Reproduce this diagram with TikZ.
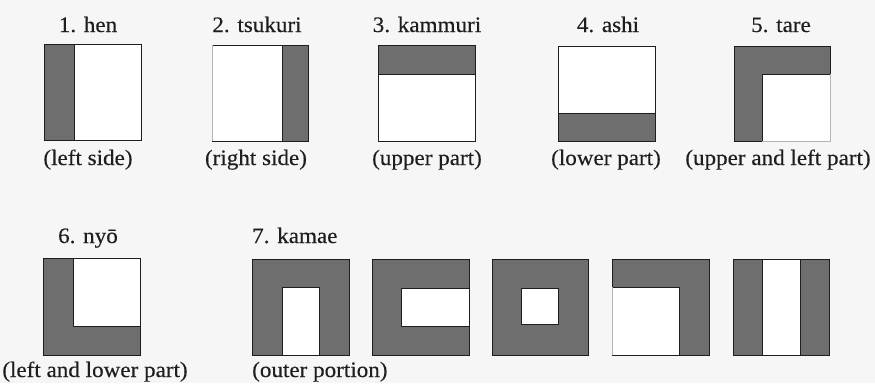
\documentclass[tikz,border=0pt]{standalone}
\usepackage{fontspec}
\setmainfont{Liberation Serif}[FakeStretch=1.05,FakeBold=0.3]
\definecolor{shadegray}{HTML}{6E6E6E}
\definecolor{bg}{HTML}{F6F6F6}
\definecolor{ink}{HTML}{1E1E1E}
\definecolor{faint}{HTML}{B4B4B4}
\tikzset{
  kbox/.style={draw=ink, line width=0.9pt, fill=shadegray, inner sep=0pt, outer sep=0pt, anchor=north west},
  hole/.style={draw=ink, line width=0.9pt, fill=white},
  edge/.style={ink, line width=0.9pt},
  faintedge/.style={faint, line width=0.9pt},
  lbl/.style={font=\fontsize{22}{26}\selectfont, text=ink, inner sep=0pt, anchor=base},
  lblw/.style={lbl, anchor=base west},
}
\begin{document}
\begin{tikzpicture}[x=1pt,y=-1pt]
\fill[bg] (0,0) rectangle (875,383);
\useasboundingbox (0,0) rectangle (875,383);

% row 1
\node[kbox, minimum width=97pt, minimum height=96pt] (b1) at (44,44) {};
\draw[hole] (74,44) rectangle (141,140);
\draw[edge] (44,44) rectangle (141,140);

\node[kbox, draw=none, minimum width=96pt, minimum height=96pt] (b2) at (212,45) {};
\fill[white] (212,45) rectangle (282,141);
\draw[edge] (282,45) -- (282,141);
\draw[edge] (212,45) -- (308,45) -- (308,141) -- (212,141);
\draw[faintedge] (212,45) -- (212,141);

\node[kbox, minimum width=97pt, minimum height=96pt] (b3) at (378,45) {};
\draw[hole] (378,74) rectangle (475,141);
\draw[edge] (378,45) rectangle (475,141);

\node[kbox, minimum width=97pt, minimum height=95pt] (b4) at (558,46) {};
\draw[hole] (558,46) rectangle (655,113);
\draw[edge] (558,46) rectangle (655,141);

\node[kbox, draw=none, minimum width=96pt, minimum height=95pt] (b5) at (734,46) {};
\fill[white] (762,74) rectangle (830,141);
\draw[edge] (830,74) -- (762,74) -- (762,141) -- (734,141) -- (734,46) -- (830,46) -- (830,74);
\draw[faintedge] (830,74) -- (830,141) -- (762,141);

% row 2
\node[kbox, minimum width=97pt, minimum height=97pt] (b6) at (43,258) {};
\draw[hole] (73,258) rectangle (140,326);
\draw[edge] (43,258) rectangle (140,355);

\node[kbox, minimum width=97pt, minimum height=96pt] (b7a) at (252,259) {};
\draw[hole] (282,287) rectangle (319,355);
\draw[edge] (252,259) rectangle (349,355);

\node[kbox, minimum width=97pt, minimum height=96pt] (b7b) at (372,259) {};
\draw[hole] (401,288) rectangle (469,326);
\draw[edge] (372,259) rectangle (469,355);

\node[kbox, minimum width=96pt, minimum height=96pt] (b7c) at (492,259) {};
\draw[hole] (521,288) rectangle (558,324);

\node[kbox, draw=none, minimum width=97pt, minimum height=96pt] (b7d) at (612,259) {};
\fill[white] (612,287) rectangle (679,355);
\draw[edge] (612,287) -- (612,259) -- (709,259) -- (709,355) -- (612,355);
\draw[edge] (612,287) -- (679,287) -- (679,355);
\draw[faintedge] (612,287) -- (612,355);

\node[kbox, minimum width=96pt, minimum height=96pt] (b7e) at (733,259) {};
\draw[hole] (762,259) rectangle (800,355);
\draw[edge] (733,259) rectangle (829,355);

% labels
\node[lbl] (t1) at (88,32) {1. hen};
\node[lbl] (c1) at (88,165) {(left side)};
\node[lbl] (t2) at (257,32) {2. tsukuri};
\node[lbl] (c2) at (256,165) {(right side)};
\node[lbl] (t3) at (427,32) {3. kammuri};
\node[lbl] (c3) at (427,165) {(upper part)};
\node[lbl] (t4) at (608,32) {4. ashi};
\node[lbl] (c4) at (606,165) {(lower part)};
\node[lbl] (t5) at (781,32) {5. tare};
\node[lbl] (c5) at (778,165) {(upper and left part)};
\node[lbl] (t6) at (88,243) {6. nyō};
\node[lbl] (c6) at (95,377) {(left and lower part)};
\node[lblw] (t7) at (252,243) {7. kamae};
\node[lblw] (c7) at (252,377) {(outer portion)};
\end{tikzpicture}
\end{document}
